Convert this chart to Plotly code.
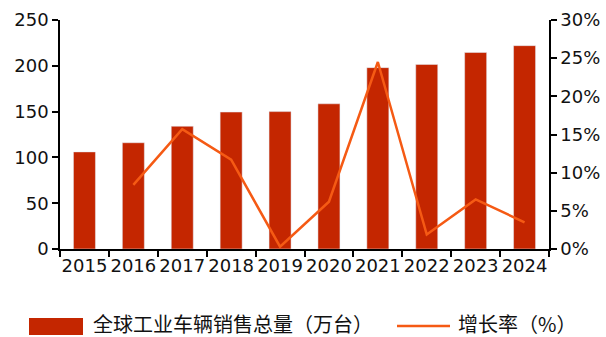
import plotly.graph_objects as go

years = ["2015", "2016", "2017", "2018", "2019", "2020", "2021", "2022", "2023", "2024"]
sales = [106, 116, 134, 149.5, 150, 158.5, 198, 201.5, 214.5, 222]
growth_years = ["2016", "2017", "2018", "2019", "2020", "2021", "2022", "2023", "2024"]
growth = [0.084, 0.157, 0.117, 0.003, 0.062, 0.245, 0.019, 0.065, 0.035]

bar_name = "全球工业车辆销售总量（万台）"
line_name = "增长率（%）"
bar_color = "#C42600"
line_color = "#F55A14"

fig = go.Figure()
fig.add_trace(go.Bar(x=years, y=sales, name=bar_name, marker_color=bar_color,
                     width=0.45, showlegend=False))
fig.add_trace(go.Scatter(x=growth_years, y=growth, name=line_name, yaxis="y2",
                         mode="lines", line=dict(color=line_color, width=2.5),
                         showlegend=False))

L, R, T, B = 60, 57, 20, 88
W, H = 606, 337
pw = W - L - R
ph = H - T - B

def px(x):
    return (x - L) / pw

def py(y):
    return (H - B - y) / ph

tickfont = dict(family="DejaVu Sans", size=18, color="#111111")
fig.update_layout(
    width=W, height=H,
    margin=dict(l=L, r=R, t=T, b=B, autoexpand=False),
    paper_bgcolor="white", plot_bgcolor="white",
    font=dict(family="DejaVu Sans", color="#111111"),
    xaxis=dict(type="category", showline=True, linecolor="black", linewidth=1.5,
               ticks="outside", tickson="boundaries", ticklen=6, tickwidth=1.5,
               tickcolor="black", tickfont=tickfont, showgrid=False,
               tickangle=0, automargin=False),
    yaxis=dict(range=[0, 250], dtick=50, showline=True, linecolor="black",
               linewidth=1.5, ticks="outside", ticklen=6, tickwidth=1.5,
               tickcolor="black", tickfont=tickfont, showgrid=False, zeroline=False,
               automargin=False),
    yaxis2=dict(range=[0, 0.30], dtick=0.05, tickformat=".0%", overlaying="y",
                side="right", showline=True, linecolor="black", linewidth=1.5,
                ticks="outside", ticklen=6, tickwidth=1.5, tickcolor="black",
                tickfont=tickfont, showgrid=False, zeroline=False, automargin=False),
    bargap=0.55,
)

legfont = dict(family="Noto Sans CJK SC", size=20, color="#111111")
fig.add_shape(type="rect", xref="paper", yref="paper",
              x0=px(29), x1=px(83), y0=py(335), y1=py(318),
              fillcolor=bar_color, line=dict(width=0))
fig.add_shape(type="line", xref="paper", yref="paper",
              x0=px(397), x1=px(450), y0=py(326), y1=py(326),
              line=dict(color=line_color, width=2.5))
fig.add_annotation(text=bar_name, xref="paper", yref="paper", x=px(91), y=py(323.5),
                   xanchor="left", yanchor="middle", showarrow=False, font=legfont)
fig.add_annotation(text=line_name, xref="paper", yref="paper", x=px(456), y=py(323.5),
                   xanchor="left", yanchor="middle", showarrow=False, font=legfont)

fig.write_html("out.html", config={"displayModeBar": False},
               post_script="document.body.style.margin='0';document.body.style.overflow='hidden';")
